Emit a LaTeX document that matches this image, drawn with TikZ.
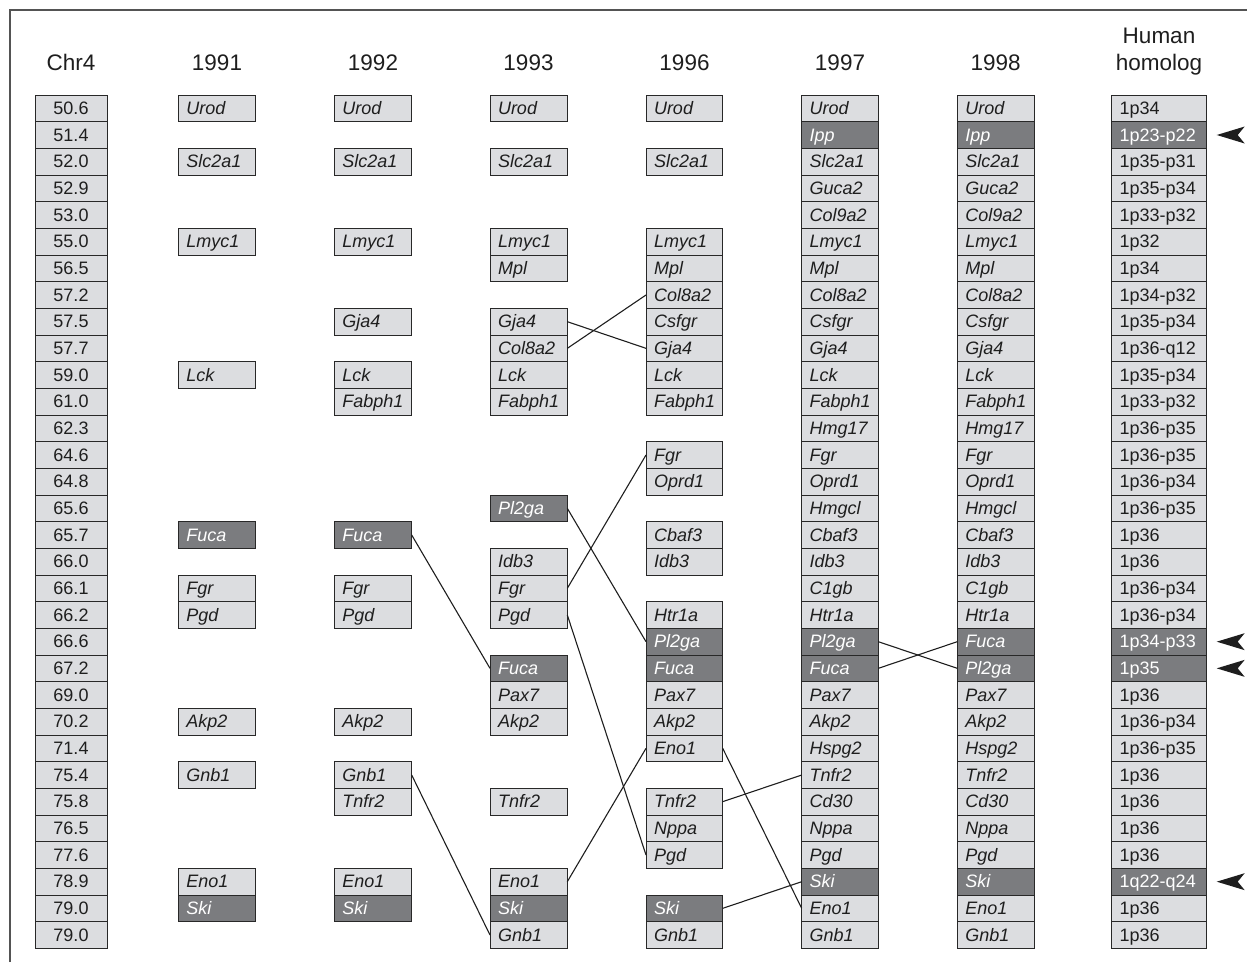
\documentclass[tikz,border=0pt]{standalone}
\usepackage{fontspec}
\setmainfont{Liberation Sans}
\usetikzlibrary{calc}
\definecolor{lightfill}{RGB}{220,221,224}
\definecolor{darkfill}{RGB}{123,124,127}
\definecolor{bordercol}{RGB}{40,40,40}
\definecolor{textcol}{RGB}{30,30,30}
\tikzset{
  gbase/.style={draw=bordercol, line width=0.95pt, minimum height=26.667pt,
    inner xsep=8pt, inner ysep=0pt, outer sep=0pt, align=left,
    text height=16pt, text depth=4pt,
    font=\fontsize{18}{18}\selectfont\itshape},
  gbox0/.style={gbase, fill=lightfill, text=textcol},
  gbox1/.style={gbase, fill=darkfill, text=white},
  upright/.style={font=\fontsize{18}{18}\selectfont\upshape},
  chrbox/.style={draw=bordercol, line width=0.95pt, fill=lightfill, text=textcol,
    minimum height=26.667pt, minimum width=72pt, inner sep=0pt, outer sep=0pt,
    text height=16pt, text depth=4pt, font=\fontsize{18}{18}\selectfont},
  hdr/.style={anchor=base, inner sep=0pt, text=textcol, font=\fontsize{22.5}{22.5}\selectfont},
  conn/.style={draw=textcol, line width=1.1pt},
  frame/.style={draw=bordercol!80, line width=1.5pt},
  pointer/.style={fill=textcol, draw=none}
}
\newcommand\genecolumn[5]{%
  \pgfmathsetmacro\tw{#3-16}%
  \foreach \r/\g/\d in {#4}{%
    \pgfmathsetmacro\yy{95+26.6667*(\r+0.5)}%
    \node[gbox\d, #5, text width=\tw pt, anchor=west] (#1-\r) at (#2,\yy) {\mbox{\g}};
  }}
\begin{document}
\begin{tikzpicture}[x=1pt,y=-1pt]
\useasboundingbox (0,0) rectangle (1247,962);
\draw[frame] (10,962) -- (10,10) -- (1247,10);

% headers
\node[hdr] (hchr) at (71,70) {Chr4};
\node[hdr] (h1991) at (217,70) {1991};
\node[hdr] (h1992) at (373,70) {1992};
\node[hdr] (h1993) at (528.5,70) {1993};
\node[hdr] (h1996) at (684.5,70) {1996};
\node[hdr] (h1997) at (840,70) {1997};
\node[hdr] (h1998) at (995.7,70) {1998};
\node[hdr] (hhum1) at (1159,43) {Human};
\node[hdr] (hhum2) at (1159,70) {homolog};

% Chr4 column
\foreach \v [count=\i from 0] in {50.6,51.4,52.0,52.9,53.0,55.0,56.5,57.2,57.5,57.7,59.0,61.0,62.3,64.6,64.8,65.6,65.7,66.0,66.1,66.2,66.6,67.2,69.0,70.2,71.4,75.4,75.8,76.5,77.6,78.9,79.0,79.0}{%
  \pgfmathsetmacro\yy{95+26.6667*(\i+0.5)}%
  \node[chrbox] (chr-\i) at (71,\yy) {\v};
}

\genecolumn{c1991}{178.3}{77.4}{0/Urod/0,2/Slc2a1/0,5/Lmyc1/0,10/Lck/0,16/Fuca/1,18/Fgr/0,19/Pgd/0,23/Akp2/0,25/Gnb1/0,29/Eno1/0,30/Ski/1}{}

\genecolumn{c1992}{334.3}{77.4}{0/Urod/0,2/Slc2a1/0,5/Lmyc1/0,8/Gja4/0,10/Lck/0,11/Fabph1/0,16/Fuca/1,18/Fgr/0,19/Pgd/0,23/Akp2/0,25/Gnb1/0,26/Tnfr2/0,29/Eno1/0,30/Ski/1}{}

\genecolumn{c1993}{490}{77.3}{0/Urod/0,2/Slc2a1/0,5/Lmyc1/0,6/Mpl/0,8/Gja4/0,9/Col8a2/0,10/Lck/0,11/Fabph1/0,15/Pl2ga/1,17/Idb3/0,18/Fgr/0,19/Pgd/0,21/Fuca/1,22/Pax7/0,23/Akp2/0,26/Tnfr2/0,29/Eno1/0,30/Ski/1,31/Gnb1/0}{}

\genecolumn{c1996}{646}{76.7}{0/Urod/0,2/Slc2a1/0,5/Lmyc1/0,6/Mpl/0,7/Col8a2/0,8/Csfgr/0,9/Gja4/0,10/Lck/0,11/Fabph1/0,13/Fgr/0,14/Oprd1/0,16/Cbaf3/0,17/Idb3/0,19/Htr1a/0,20/Pl2ga/1,21/Fuca/1,22/Pax7/0,23/Akp2/0,24/Eno1/0,26/Tnfr2/0,27/Nppa/0,28/Pgd/0,30/Ski/1,31/Gnb1/0}{}

\genecolumn{c1997}{801.7}{76.6}{0/Urod/0,1/Ipp/1,2/Slc2a1/0,3/Guca2/0,4/Col9a2/0,5/Lmyc1/0,6/Mpl/0,7/Col8a2/0,8/Csfgr/0,9/Gja4/0,10/Lck/0,11/Fabph1/0,12/Hmg17/0,13/Fgr/0,14/Oprd1/0,15/Hmgcl/0,16/Cbaf3/0,17/Idb3/0,18/C1gb/0,19/Htr1a/0,20/Pl2ga/1,21/Fuca/1,22/Pax7/0,23/Akp2/0,24/Hspg2/0,25/Tnfr2/0,26/Cd30/0,27/Nppa/0,28/Pgd/0,29/Ski/1,30/Eno1/0,31/Gnb1/0}{}

\genecolumn{c1998}{957.3}{77}{0/Urod/0,1/Ipp/1,2/Slc2a1/0,3/Guca2/0,4/Col9a2/0,5/Lmyc1/0,6/Mpl/0,7/Col8a2/0,8/Csfgr/0,9/Gja4/0,10/Lck/0,11/Fabph1/0,12/Hmg17/0,13/Fgr/0,14/Oprd1/0,15/Hmgcl/0,16/Cbaf3/0,17/Idb3/0,18/C1gb/0,19/Htr1a/0,20/Fuca/1,21/Pl2ga/1,22/Pax7/0,23/Akp2/0,24/Hspg2/0,25/Tnfr2/0,26/Cd30/0,27/Nppa/0,28/Pgd/0,29/Ski/1,30/Eno1/0,31/Gnb1/0}{}

\genecolumn{hum}{1111.7}{95}{0/1p34/0,1/1p23-p22/1,2/1p35-p31/0,3/1p35-p34/0,4/1p33-p32/0,5/1p32/0,6/1p34/0,7/1p34-p32/0,8/1p35-p34/0,9/1p36-q12/0,10/1p35-p34/0,11/1p33-p32/0,12/1p36-p35/0,13/1p36-p35/0,14/1p36-p34/0,15/1p36-p35/0,16/1p36/0,17/1p36/0,18/1p36-p34/0,19/1p36-p34/0,20/1p34-p33/1,21/1p35/1,22/1p36/0,23/1p36-p34/0,24/1p36-p35/0,25/1p36/0,26/1p36/0,27/1p36/0,28/1p36/0,29/1q22-q24/1,30/1p36/0,31/1p36/0}{upright}

% pointers
\foreach \r in {1,20,21,29}{%
  \fill[pointer] ($(hum-\r.east)+(10,0)$) -- ++(28,-8.5) -- ++(-7,8.5) -- ++(7,8.5) -- cycle;
}

% connectors
\draw[conn] (c1992-16.east) -- (c1993-21.west);
\draw[conn] (c1992-25.east) -- (c1993-31.west);
\draw[conn] (c1993-8.east) -- (c1996-9.west);
\draw[conn] (c1993-9.east) -- (c1996-7.west);
\draw[conn] (c1993-15.east) -- (c1996-20.west);
\draw[conn] (c1993-18.east) -- (c1996-13.west);
\draw[conn] (c1993-19.east) -- (c1996-28.west);
\draw[conn] (c1993-29.east) -- (c1996-24.west);
\draw[conn] (c1996-24.east) -- (c1997-30.west);
\draw[conn] (c1996-26.east) -- (c1997-25.west);
\draw[conn] (c1996-30.east) -- (c1997-29.west);
\draw[conn] (c1997-20.east) -- (c1998-21.west);
\draw[conn] (c1997-21.east) -- (c1998-20.west);
\end{tikzpicture}
\end{document}
